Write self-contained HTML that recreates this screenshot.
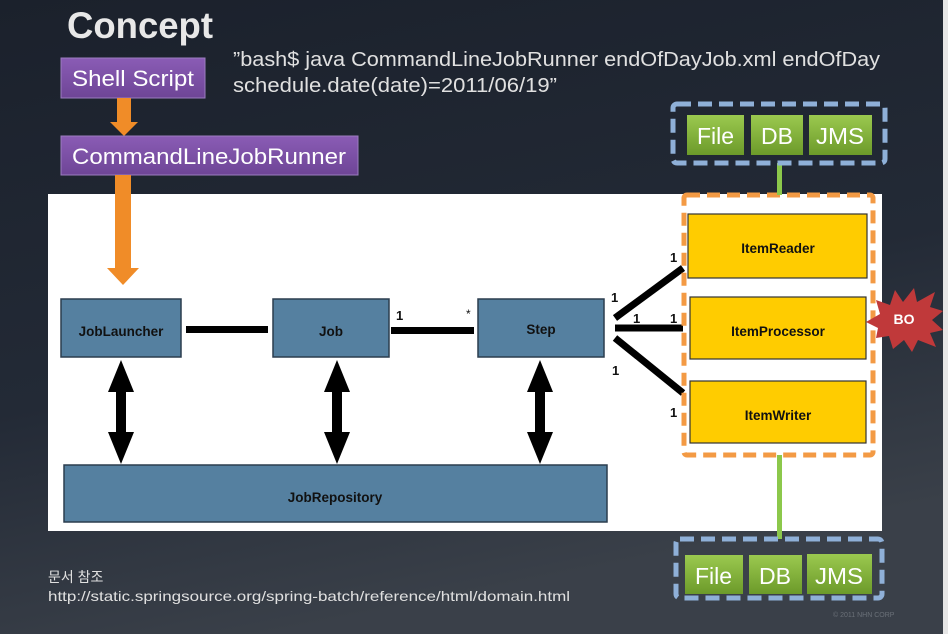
<!DOCTYPE html>
<html><head><meta charset="utf-8"><style>
html,body{margin:0;padding:0;width:948px;height:634px;overflow:hidden;background:#1e2430}
svg{display:block}
text{font-family:"Liberation Sans","Noto Sans CJK KR",sans-serif}
</style></head><body>
<svg width="948" height="634" viewBox="0 0 948 634" xmlns="http://www.w3.org/2000/svg">
<defs>
<linearGradient id="bg" x1="0" y1="0" x2="0.3" y2="1">
<stop offset="0" stop-color="#1b212c"/><stop offset="0.6" stop-color="#232a36"/><stop offset="1" stop-color="#3a4049"/>
</linearGradient>
<linearGradient id="gr" x1="0" y1="0" x2="0" y2="1"><stop offset="0" stop-color="#9bc94f"/><stop offset="1" stop-color="#6c9a2a"/></linearGradient>
<linearGradient id="pu" x1="0" y1="0" x2="0" y2="1"><stop offset="0" stop-color="#8a5cb5"/><stop offset="1" stop-color="#6e4596"/></linearGradient>
</defs>
<rect width="948" height="634" fill="url(#bg)"/>
<rect x="943" y="0" width="5" height="634" fill="#e6e6e6"/>

<text x="67" y="38" font-size="37" font-weight="bold" fill="#e8e8e8" textLength="146" lengthAdjust="spacingAndGlyphs">Concept</text>
<text x="233" y="66" font-size="20" fill="#e0e0e0" textLength="647" lengthAdjust="spacingAndGlyphs">”bash$ java CommandLineJobRunner endOfDayJob.xml endOfDay</text>
<text x="233" y="92" font-size="20" fill="#e0e0e0" textLength="324" lengthAdjust="spacingAndGlyphs">schedule.date(date)=2011/06/19”</text>

<rect x="61" y="58" width="144" height="40" fill="url(#pu)" stroke="#9c7cc0"/>
<text x="72" y="86" font-size="22" fill="#fff" textLength="122" lengthAdjust="spacingAndGlyphs">Shell Script</text>
<rect x="117" y="98" width="14" height="24" fill="#f08c28"/>
<polygon points="110,122 138,122 124,136" fill="#f08c28"/>
<rect x="61" y="136" width="297" height="39" fill="url(#pu)" stroke="#9c7cc0"/>
<text x="72" y="164" font-size="22" fill="#fff" textLength="274" lengthAdjust="spacingAndGlyphs">CommandLineJobRunner</text>

<rect x="48" y="194" width="834" height="337" fill="#fff"/>
<rect x="115" y="175" width="16" height="95" fill="#f08c28"/>
<polygon points="107,268 139,268 123,285" fill="#f08c28"/>

<g stroke="#2b3d4e" stroke-width="1.5" fill="#5580a0">
<rect x="61" y="299" width="120" height="58"/>
<rect x="273" y="299" width="116" height="58"/>
<rect x="478" y="299" width="126" height="58"/>
<rect x="64" y="465" width="543" height="57"/>
</g>
<g font-size="13.5" font-weight="bold" fill="#111" text-anchor="middle">
<text x="121" y="336">JobLauncher</text>
<text x="331" y="336">Job</text>
<text x="541" y="334">Step</text>
<text x="335" y="502">JobRepository</text>
</g>
<rect x="186" y="326" width="82" height="7" fill="#000"/>
<rect x="391" y="327" width="83" height="7" fill="#000"/>
<text x="396" y="320" font-size="13" font-weight="bold" fill="#111">1</text>
<text x="466" y="318" font-size="12" fill="#111">*</text>

<g fill="#000">
<polygon points="121,360 134,392 126,392 126,432 134,432 121,464 108,432 116,432 116,392 108,392"/>
<polygon points="337,360 350,392 342,392 342,432 350,432 337,464 324,432 332,432 332,392 324,392"/>
<polygon points="540,360 553,392 545,392 545,432 553,432 540,464 527,432 535,432 535,392 527,392"/>
</g>

<g stroke="#000" stroke-width="7">
<line x1="615" y1="318" x2="683" y2="268"/>
<line x1="615" y1="328" x2="683" y2="328"/>
<line x1="615" y1="338" x2="683" y2="393"/>
</g>
<g font-size="13" font-weight="bold" fill="#111">
<text x="611" y="302">1</text>
<text x="670" y="262">1</text>
<text x="633" y="323">1</text>
<text x="670" y="323">1</text>
<text x="612" y="375">1</text>
<text x="670" y="417">1</text>
</g>

<g stroke="#333" stroke-width="1.2" fill="#ffcc00">
<rect x="688" y="214" width="179" height="64"/>
<rect x="690" y="297" width="176" height="62"/>
<rect x="690" y="381" width="176" height="62"/>
</g>
<g font-size="13.5" font-weight="bold" fill="#111" text-anchor="middle">
<text x="778" y="253">ItemReader</text>
<text x="778" y="336">ItemProcessor</text>
<text x="778" y="420">ItemWriter</text>
</g>
<rect x="684" y="195" width="189" height="260" fill="none" stroke="#f39a44" stroke-width="5" stroke-dasharray="13,7" rx="3"/>

<polygon points="866,322 880,314 876,300 890,305 895,290 903,302 914,288 917,302 935,292 930,307 943,311 932,320 943,330 930,333 936,347 918,340 912,352 904,340 893,349 889,336 876,338 878,328" fill="#c0393a"/>
<text x="904" y="324" font-size="14" font-weight="bold" fill="#fff" text-anchor="middle">BO</text>

<rect x="777" y="163" width="5" height="32" fill="#8cc84b"/>
<rect x="777" y="455" width="5" height="84" fill="#8cc84b"/>

<rect x="673" y="104" width="212" height="59" fill="none" stroke="#8fb0d8" stroke-width="5" stroke-dasharray="14,7" rx="4"/>
<rect x="687" y="115" width="57" height="40" fill="url(#gr)"/>
<rect x="751" y="115" width="52" height="40" fill="url(#gr)"/>
<rect x="809" y="115" width="63" height="40" fill="url(#gr)"/>
<g font-size="23" fill="#fff">
<text x="697" y="144" textLength="37" lengthAdjust="spacingAndGlyphs">File</text><text x="761" y="144" textLength="32" lengthAdjust="spacingAndGlyphs">DB</text><text x="816" y="144" textLength="48" lengthAdjust="spacingAndGlyphs">JMS</text>
</g>

<rect x="676" y="539" width="206" height="59" fill="none" stroke="#8fb0d8" stroke-width="5" stroke-dasharray="14,7" rx="4"/>
<rect x="685" y="555" width="58" height="39" fill="url(#gr)"/>
<rect x="749" y="555" width="53" height="39" fill="url(#gr)"/>
<rect x="807" y="554" width="65" height="40" fill="url(#gr)"/>
<g font-size="23" fill="#fff">
<text x="695" y="584" textLength="37" lengthAdjust="spacingAndGlyphs">File</text><text x="759" y="584" textLength="32" lengthAdjust="spacingAndGlyphs">DB</text><text x="815" y="584" textLength="48" lengthAdjust="spacingAndGlyphs">JMS</text>
</g>

<text x="48" y="582" font-size="14" fill="#e0e0e0">문서 참조</text>
<text x="48" y="601" font-size="14" fill="#e0e0e0" textLength="522" lengthAdjust="spacingAndGlyphs">http://static.springsource.org/spring-batch/reference/html/domain.html</text>
<text x="833" y="617" font-size="7" fill="#6a7078">© 2011 NHN CORP</text>
</svg>
</body></html>
